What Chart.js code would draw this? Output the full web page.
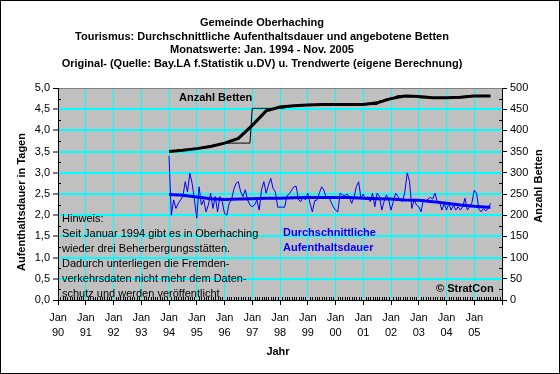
<!DOCTYPE html>
<html>
<head>
<meta charset="utf-8">
<script src="https://cdn.jsdelivr.net/npm/chart.js@4.4.1/dist/chart.umd.min.js"></script>
<style>
    html, body { margin: 0; padding: 0; background: #fff; }
</style>
</head>
<body>
<canvas id="chart" width="560" height="374"></canvas>
<script>
(function() {
    'use strict';

    // x axis counts months from Jan 1990
    var yearLabels = ['90', '91', '92', '93', '94', '95', '96', '97',
                      '98', '99', '00', '01', '02', '03', '04', '05'];
    var firstMonth = 48; // Jan 1994

    // Durchschnittliche Aufenthaltsdauer (Tage), Monatswerte
    var dauer1994 = [3.40, 2.00, 2.36, 2.16, 2.28, 2.36, 2.44, 2.79, 2.55, 2.99, 2.75, 2.36];
    var dauer1995 = [1.93, 2.67, 2.24, 2.36, 2.08, 2.24, 2.52, 2.16, 2.44, 2.08, 2.44, 2.32];
    var dauer1996 = [2.04, 2.00, 2.28, 2.36, 2.60, 2.75, 2.79, 2.55, 2.44, 2.60, 2.36, 2.24];
    var dauer1997 = [2.20, 2.24, 2.36, 2.12, 2.60, 2.79, 2.52, 2.71, 2.87, 2.63, 2.55, 2.19];
    var dauer1998 = [2.19, 2.19, 2.19, 2.46, 2.50, 2.59, 2.67, 2.68, 2.36, 2.32, 2.44, 2.36];
    var dauer1999 = [2.52, 2.28, 2.08, 2.34, 2.36, 2.52, 2.67, 2.59, 2.40, 2.44, 2.32, 2.20];
    var dauer2000 = [2.12, 2.08, 2.52, 2.48, 2.46, 2.50, 2.42, 2.28, 2.42, 2.67, 2.79, 2.40];
    var dauer2001 = [2.50, 2.36, 2.44, 2.32, 2.52, 2.20, 2.52, 2.44, 2.12, 2.32, 2.48, 2.36];
    var dauer2002 = [2.12, 2.32, 2.52, 2.44, 2.36, 2.32, 2.55, 3.00, 2.80, 2.16, 2.36, 2.24];
    var dauer2003 = [2.20, 2.08, 2.38, 2.32, 2.38, 2.42, 2.38, 2.52, 2.32, 2.32, 2.12, 2.28];
    var dauer2004 = [2.12, 2.28, 2.12, 2.24, 2.12, 2.20, 2.12, 2.20, 2.40, 2.12, 2.20, 2.30];
    var dauer2005 = [2.59, 2.52, 2.14, 2.08, 2.16, 2.10, 2.16, 2.28];

    // Angebotene Betten, Monatswerte
    var betten1994 = [350, 350, 351, 352, 352, 353, 354, 355, 355, 356, 357, 358];
    var betten1995 = [358, 359, 360, 361, 362, 363, 364, 365, 366, 367, 368, 369];
    var betten1996 = [370, 370, 370, 370, 370, 370, 370, 370, 370, 370, 370, 370];
    var betten1997 = [452, 452, 452, 452, 452, 452, 452, 452, 452, 452, 452, 452];
    var betten1998 = [452, 452, 453, 455, 456, 457, 458, 459, 460, 460, 460, 460];
    var betten1999 = [460, 460, 460, 460, 461, 461, 461, 461, 461, 461, 461, 461];
    var betten2000 = [461, 461, 461, 461, 461, 461, 461, 461, 461, 461, 461, 461];
    var betten2001 = [461, 461, 461, 461, 461, 461, 461, 470, 470, 472, 475, 475];
    var betten2002 = [476, 476, 480, 482, 482, 482, 482, 482, 482, 482, 482, 482];
    var betten2003 = [477, 477, 477, 477, 477, 477, 477, 477, 477, 477, 477, 477];
    var betten2004 = [477, 477, 477, 477, 477, 477, 477, 477, 481, 481, 481, 481];
    var betten2005 = [481, 481, 481, 481, 481, 481, 481, 481];

    var trendMonths = [48, 54, 60, 66, 72, 78, 84, 90, 96, 102, 108, 114, 120,
                       126, 132, 138, 144, 150, 156, 162, 168, 174, 180, 186, 187];
    var trendDauer = [2.49, 2.47, 2.43, 2.39, 2.37, 2.38, 2.39, 2.40, 2.40, 2.41, 2.42, 2.42, 2.42,
                      2.42, 2.40, 2.39, 2.38, 2.36, 2.35, 2.32, 2.28, 2.24, 2.21, 2.19, 2.19];
    var trendBetten = [350, 353, 357, 362, 370, 381, 412, 446, 455, 458, 460, 461, 461,
                       461, 461, 465, 475, 481, 480, 477, 477, 478, 481, 481, 481];

    var titleLines = [
        'Gemeinde Oberhaching',
        'Tourismus: Durchschnittliche Aufenthaltsdauer und angebotene Betten',
        'Monatswerte: Jan. 1994 - Nov. 2005',
        'Original- (Quelle: Bay.LA f.Statistik u.DV) u. Trendwerte (eigene Berechnung)'
    ];
    var hinweisLines = [
        'Hinweis:',
        'Seit Januar 1994 gibt es in Oberhaching',
        'wieder drei Beherbergungsstätten.',
        'Dadurch unterliegen die Fremden-',
        'verkehrsdaten nicht mehr dem Daten-',
        'schutz und werden veröffentlicht'
    ];

    var FONT = '"Liberation Sans", Arial, sans-serif';
    var CYAN = '#00ffff';
    var BLUE = '#0000ff';
    var NONE = 'rgba(0,0,0,0)';

    var dauer = [].concat(dauer1994, dauer1995, dauer1996, dauer1997, dauer1998, dauer1999,
                          dauer2000, dauer2001, dauer2002, dauer2003, dauer2004, dauer2005);
    var betten = [].concat(betten1994, betten1995, betten1996, betten1997, betten1998, betten1999,
                           betten2000, betten2001, betten2002, betten2003, betten2004, betten2005);

    function monthly(values) {
        return values.map(function(v, i) {
            return { x: firstMonth + i, y: v };
        });
    }

    function trend(values) {
        return trendMonths.map(function(m, i) {
            return { x: m, y: values[i] };
        });
    }

    function text(ctx, str, x, y, font, color, align) {
        ctx.font = font;
        ctx.fillStyle = color || '#000';
        ctx.textAlign = align || 'left';
        ctx.textBaseline = 'middle';
        ctx.fillText(str, x, y);
    }

    var decorPlugin = {
        id: 'decor',
        beforeDraw: function(chart) {
            var ctx = chart.ctx;
            var a = chart.chartArea;
            ctx.save();
            ctx.fillStyle = '#fff';
            ctx.fillRect(0, 0, chart.width, chart.height);
            ctx.fillStyle = '#c0c0c0';
            ctx.fillRect(a.left, a.top, a.right - a.left, a.bottom - a.top);
            ctx.restore();
        },
        afterDraw: function(chart) {
            var ctx = chart.ctx;
            var a = chart.chartArea;
            var sx = chart.scales.x, sy = chart.scales.y, sy2 = chart.scales.y2;
            var bold = 'bold 11px ' + FONT;
            var i, p;
            ctx.save();

            titleLines.forEach(function(line, k) {
                text(ctx, line, 262, 23 + k * 13.6, bold, '#000', 'center');
            });

            // axis titles
            ctx.save();
            ctx.translate(22, 202);
            ctx.rotate(-Math.PI / 2);
            text(ctx, 'Aufenthaltsdauer in Tagen', 0, 0, bold, '#000', 'center');
            ctx.restore();
            ctx.save();
            ctx.translate(539, 186);
            ctx.rotate(-Math.PI / 2);
            text(ctx, 'Anzahl Betten', 0, 0, bold, '#000', 'center');
            ctx.restore();
            text(ctx, 'Jahr', 278, 352, bold, '#000', 'center');

            // labels inside the plot
            text(ctx, 'Anzahl Betten', 179, 98, bold, '#000');
            text(ctx, 'Durchschnittliche', 283, 233, bold, BLUE);
            text(ctx, 'Aufenthaltsdauer', 283, 248, bold, BLUE);
            text(ctx, '\u00a9 StratCon', 436, 289, bold, '#000');
            hinweisLines.forEach(function(line, k) {
                text(ctx, line, 62, 219 + k * 15, '11px ' + FONT, '#000');
            });

            // minor tick marks
            ctx.strokeStyle = '#000';
            ctx.lineWidth = 1;
            ctx.beginPath();
            for (i = 0.25; i < 5; i += 0.5) {
                p = Math.round(sy.getPixelForValue(i)) + 0.5;
                ctx.moveTo(a.left, p);
                ctx.lineTo(a.left + 3, p);
            }
            for (i = 25; i < 500; i += 50) {
                p = Math.round(sy2.getPixelForValue(i)) + 0.5;
                ctx.moveTo(a.right, p);
                ctx.lineTo(a.right - 3, p);
            }
            for (i = 1; i < 192; i++) {
                if (i % 12 === 0) continue;
                p = Math.round(sx.getPixelForValue(i)) + 0.5;
                ctx.moveTo(p, a.bottom);
                ctx.lineTo(p, a.bottom - 3);
            }
            ctx.stroke();

            ctx.strokeRect(0.5, 0.5, chart.width - 1, chart.height - 1);
            ctx.restore();
        }
    };

    var tickFont = { family: FONT, size: 11, lineHeight: 1.4 };

    new Chart(document.getElementById('chart').getContext('2d'), {
        type: 'line',
        data: {
            datasets: [
                {
                    label: 'Betten Trend',
                    data: trend(trendBetten),
                    yAxisID: 'y2',
                    borderColor: '#000',
                    borderWidth: 3
                },
                {
                    label: 'Aufenthaltsdauer Trend',
                    data: trend(trendDauer),
                    yAxisID: 'y',
                    borderColor: BLUE,
                    borderWidth: 3
                },
                {
                    label: 'Betten',
                    data: monthly(betten),
                    yAxisID: 'y2',
                    borderColor: '#000',
                    borderWidth: 1
                },
                {
                    label: 'Aufenthaltsdauer',
                    data: monthly(dauer),
                    yAxisID: 'y',
                    borderColor: BLUE,
                    borderWidth: 1
                }
            ]
        },
        options: {
            responsive: false,
            animation: false,
            events: [],
            layout: { padding: { top: 88, left: 0, right: 0, bottom: 0 } },
            elements: {
                point: { radius: 0 },
                line: { tension: 0 }
            },
            plugins: {
                legend: { display: false },
                tooltip: { enabled: false },
                title: { display: false }
            },
            scales: {
                x: {
                    type: 'linear',
                    min: 0,
                    max: 192,
                    afterFit: function(s) { s.height = 74; },
                    ticks: {
                        stepSize: 12,
                        autoSkip: false,
                        maxRotation: 0,
                        padding: 5,
                        color: '#000',
                        font: tickFont,
                        callback: function(v) {
                            var k = Math.round(v / 12);
                            return k < yearLabels.length ? ['Jan', yearLabels[k]] : '';
                        }
                    },
                    grid: {
                        color: function(c) {
                            var v = c.tick ? c.tick.value : 0;
                            return (v === 0 || v === 192) ? NONE : CYAN;
                        },
                        lineWidth: 1,
                        tickColor: '#000',
                        tickLength: 5,
                        tickWidth: 1
                    },
                    border: { color: '#000', width: 1 }
                },
                y: {
                    position: 'left',
                    min: 0,
                    max: 5,
                    afterFit: function(s) { s.width = 58; },
                    ticks: {
                        stepSize: 0.5,
                        padding: 3,
                        color: '#000',
                        font: tickFont,
                        callback: function(v) { return v.toFixed(1).replace('.', ','); }
                    },
                    grid: {
                        color: function(c) {
                            var v = c.tick ? c.tick.value : 0;
                            if (v === 0) return NONE;
                            if (v === 5) return '#808080';
                            return CYAN;
                        },
                        lineWidth: function(c) {
                            var v = c.tick ? c.tick.value : 0;
                            return (v === 0 || v === 5) ? 1 : 2;
                        },
                        tickColor: '#000',
                        tickLength: 5,
                        tickWidth: 1
                    },
                    border: { color: '#000', width: 1 }
                },
                y2: {
                    position: 'right',
                    min: 0,
                    max: 500,
                    afterFit: function(s) { s.width = 58; },
                    ticks: {
                        stepSize: 50,
                        padding: 3,
                        color: '#000',
                        font: tickFont
                    },
                    grid: {
                        drawOnChartArea: false,
                        tickColor: '#000',
                        tickLength: 5,
                        tickWidth: 1
                    },
                    border: { color: '#000', width: 1 }
                }
            }
        },
        plugins: [decorPlugin]
    });
})();
</script>
</body>
</html>
